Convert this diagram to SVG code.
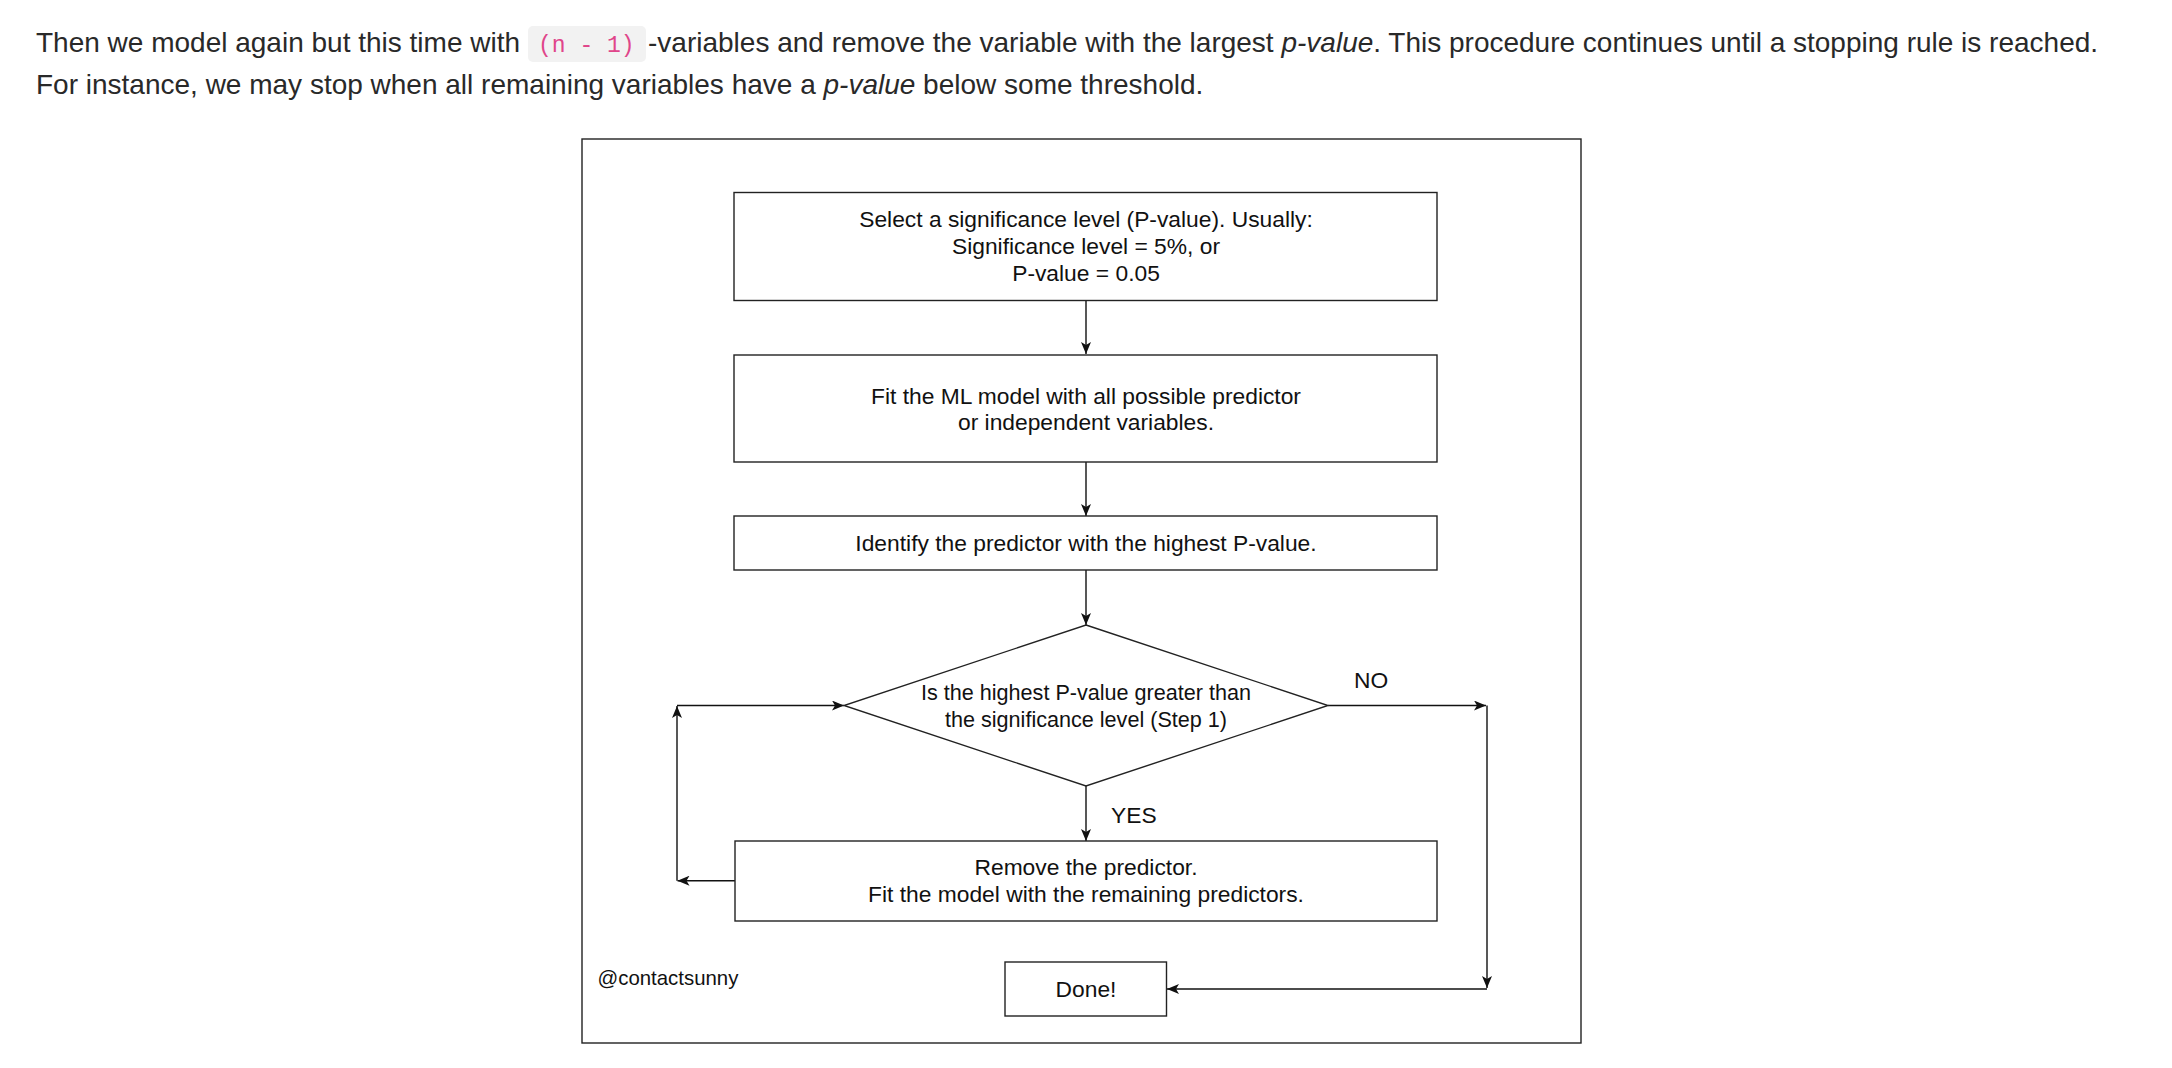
<svg xmlns="http://www.w3.org/2000/svg" width="2172" height="1068" viewBox="0 0 2172 1068">
<style>
.para{font-family:"Liberation Sans",Arial,sans-serif;font-size:28px;fill:#292929}
.code{font-family:"Liberation Mono","DejaVu Sans Mono",monospace;font-size:23px;fill:#e0458a}
.node{fill:#fff;stroke:#222;stroke-width:1.4}
.t{font-family:"Liberation Sans",Arial,sans-serif;font-size:22.8px;fill:#111;text-anchor:middle}
.td{font-family:"Liberation Sans",Arial,sans-serif;font-size:21.6px;fill:#111;text-anchor:middle}
.lbl{font-family:"Liberation Sans",Arial,sans-serif;font-size:22.8px;fill:#111}
.sig{font-family:"Liberation Sans",Arial,sans-serif;font-size:20.4px;fill:#111}
.edge{fill:none;stroke:#111;stroke-width:1.4}
</style>
<defs>
<marker id="arr" viewBox="0 0 12 10" refX="12" refY="5" markerWidth="12" markerHeight="10" markerUnits="userSpaceOnUse" orient="auto">
<path d="M0,0 L12,5 L0,10 L3,5 z" fill="#111"/>
</marker>
</defs>
<rect width="2172" height="1068" fill="#fff"/>
<g id="paragraph">
<rect x="528" y="26" width="118" height="36" rx="5" fill="#f2f2f2"/>
<text class="para" x="36" y="52">Then we model again but this time with</text>
<text class="code" x="538" y="52">(n - 1)</text>
<text class="para" x="648" y="52">-variables and remove the variable with the largest <tspan font-style="italic">p-value</tspan>. This procedure continues until a stopping rule is reached.</text>
<text class="para" x="36" y="94">For instance, we may stop when all remaining variables have a <tspan font-style="italic">p-value</tspan> below some threshold.</text>
</g>
<g id="frame">
<rect x="582" y="139" width="999" height="904" fill="#fff" stroke="#222" stroke-width="1.4"/>
</g>
<g id="connectors">
<path class="edge" d="M1086,300.5 V354" marker-end="url(#arr)"/>
<path class="edge" d="M1086,462 V516" marker-end="url(#arr)"/>
<path class="edge" d="M1086,570 V625" marker-end="url(#arr)"/>
<path class="edge" d="M1086,786 V841" marker-end="url(#arr)"/>
<path class="edge" d="M1328,705.5 H1486" marker-end="url(#arr)"/>
<path class="edge" d="M1487,705.5 V988" marker-end="url(#arr)"/>
<path class="edge" d="M1487,989 H1167" marker-end="url(#arr)"/>
<path class="edge" d="M741,880.7 H677.5" marker-end="url(#arr)"/>
<path class="edge" d="M677,880.7 V706" marker-end="url(#arr)"/>
<path class="edge" d="M677,705.5 H844" marker-end="url(#arr)"/>
</g>
<g id="select-level">
<rect class="node" x="734" y="192.5" width="703" height="108"/>
<text class="t" x="1086" y="226.7">Select a significance level (P-value). Usually:</text>
<text class="t" x="1086" y="254">Significance level = 5%, or</text>
<text class="t" x="1086" y="280.7">P-value = 0.05</text>
</g>
<g id="fit-model">
<rect class="node" x="734" y="355" width="703" height="107"/>
<text class="t" x="1086" y="403.5">Fit the ML model with all possible predictor</text>
<text class="t" x="1086" y="430">or independent variables.</text>
</g>
<g id="identify">
<rect class="node" x="734" y="516" width="703" height="54"/>
<text class="t" x="1086" y="550.7">Identify the predictor with the highest P-value.</text>
</g>
<g id="decision">
<polygon class="node" points="1086,625 1328,705.5 1086,786 844,705.5"/>
<text class="td" x="1086" y="700">Is the highest P-value greater than</text>
<text class="td" x="1086" y="726.7">the significance level (Step 1)</text>
</g>
<g id="remove">
<rect class="node" x="735" y="841" width="702" height="80"/>
<text class="t" x="1086" y="875">Remove the predictor.</text>
<text class="t" x="1086" y="901.7">Fit the model with the remaining predictors.</text>
</g>
<g id="done">
<rect class="node" x="1005" y="962" width="161.5" height="54"/>
<text class="t" x="1086" y="996.7">Done!</text>
</g>
<g id="labels">
<text class="lbl" x="1354" y="688">NO</text>
<text class="lbl" x="1111" y="823.3">YES</text>
<text class="sig" x="597.5" y="985">@contactsunny</text>
</g>
</svg>
